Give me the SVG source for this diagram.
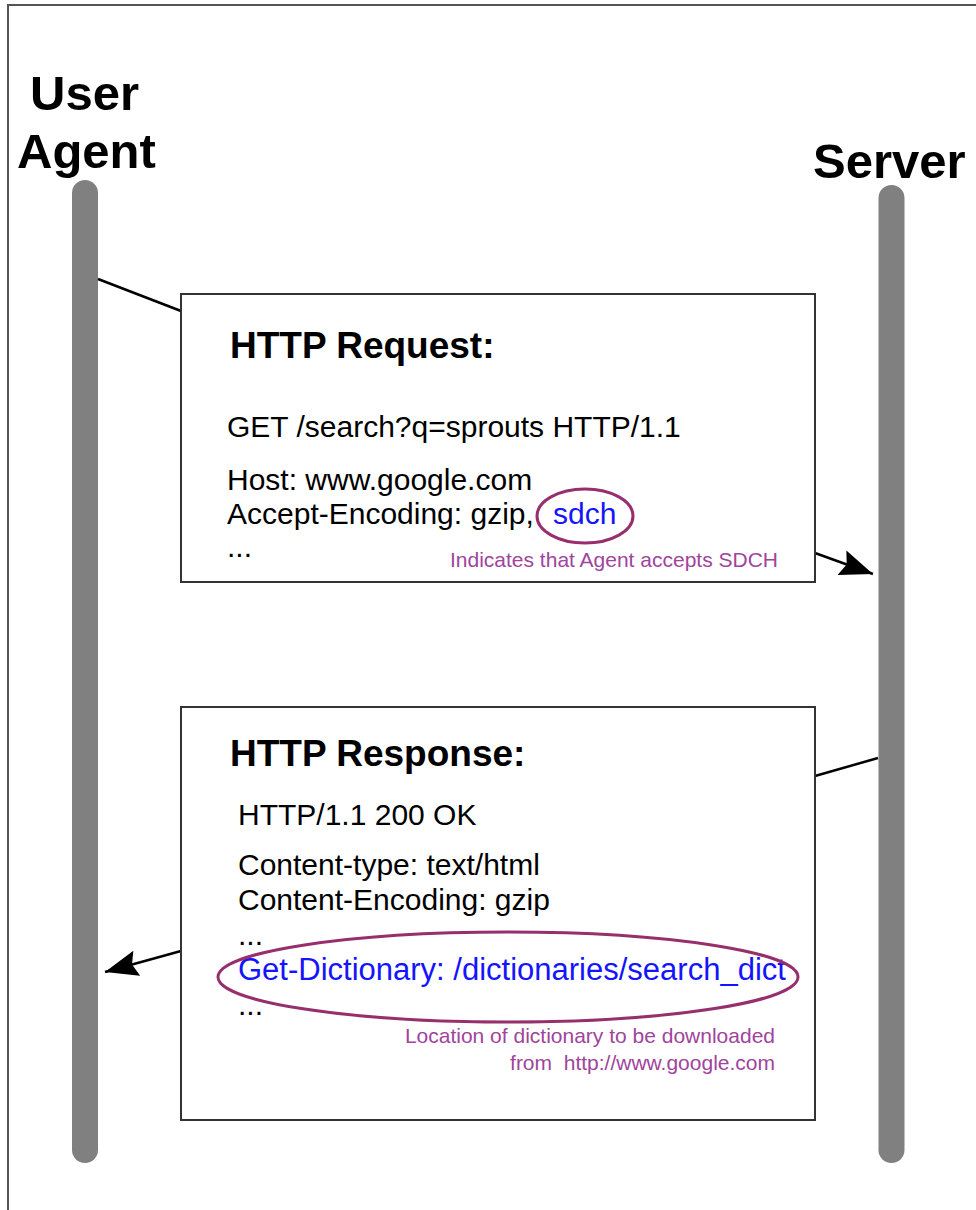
<svg xmlns="http://www.w3.org/2000/svg" width="976" height="1210" viewBox="0 0 976 1210">
  <defs>
    <marker id="arrow" markerUnits="userSpaceOnUse" markerWidth="34" markerHeight="28" viewBox="0 0 34 28" refX="33" refY="14" orient="auto">
      <path d="M0,1 L33,14 L0,27 L5,14 Z" fill="#000"/>
    </marker>
    <style>
      .life { stroke: #808080; stroke-width: 26; stroke-linecap: round; fill: none; }
      .actor { font-family: "Liberation Sans", Arial, sans-serif; font-weight: bold; font-size: 49px; fill: #000; }
      .box { fill: #fff; stroke: #333; stroke-width: 2; }
      .title { font-family: "Liberation Sans", Arial, sans-serif; font-weight: bold; font-size: 37px; fill: #000; }
      .body { font-family: "Liberation Sans", Arial, sans-serif; font-size: 30px; fill: #000; }
      .blue { fill: #1414ff; }
      .note { font-family: "Liberation Sans", Arial, sans-serif; font-size: 21px; fill: #a0449c; }
      .hl { fill: none; stroke: #962f6c; stroke-width: 3; }
      .conn { stroke: #000; stroke-width: 2.5; fill: none; }
    </style>
  </defs>
  <rect x="0" y="0" width="976" height="1210" fill="#fff"/>
  <rect x="8" y="5" width="1000" height="1300" fill="none" stroke="#555" stroke-width="2"/>

  <g id="user-agent">
    <text class="actor" x="30" y="110">User</text>
    <text class="actor" x="17" y="168">Agent</text>
    <line class="life" x1="85" y1="193" x2="85" y2="1150"/>
  </g>

  <g id="server">
    <text class="actor" x="813" y="178">Server</text>
    <line class="life" x1="891.5" y1="198" x2="891.5" y2="1150"/>
  </g>

  <g id="connectors">
    <line class="conn" x1="98" y1="279" x2="181" y2="311"/>
    <line class="conn" x1="815" y1="553" x2="873" y2="574" marker-end="url(#arrow)"/>
    <line class="conn" x1="815" y1="776" x2="878" y2="758"/>
    <line class="conn" x1="181" y1="951" x2="105" y2="972" marker-end="url(#arrow)"/>
  </g>

  <g id="http-request">
    <rect class="box" x="181" y="294" width="634" height="288"/>
    <text class="title" x="230" y="358">HTTP Request:</text>
    <text class="body" x="227" y="437">GET /search?q=sprouts HTTP/1.1</text>
    <text class="body" x="227" y="490">Host: www.google.com</text>
    <text class="body" x="227" y="524">Accept-Encoding: gzip, <tspan class="blue" x="553">sdch</tspan></text>
    <ellipse class="hl" cx="585" cy="516" rx="48" ry="27"/>
    <text class="body" x="227" y="557">...</text>
    <text class="note" x="778" y="567" text-anchor="end">Indicates that Agent accepts SDCH</text>
  </g>

  <g id="http-response">
    <rect class="box" x="181" y="707" width="634" height="413"/>
    <text class="title" x="230" y="766">HTTP Response:</text>
    <text class="body" x="238" y="825">HTTP/1.1 200 OK</text>
    <text class="body" x="238" y="875">Content-type: text/html</text>
    <text class="body" x="238" y="910">Content-Encoding: gzip</text>
    <text class="body" x="238" y="945">...</text>
    <text class="body blue" x="238" y="980" style="font-size:31px">Get-Dictionary: /dictionaries/search_dict</text>
    <ellipse class="hl" cx="508" cy="977" rx="290" ry="45"/>
    <text class="body" x="238" y="1015">...</text>
    <text class="note" x="775" y="1043" text-anchor="end">Location of dictionary to be downloaded</text>
    <text class="note" x="775" y="1070" text-anchor="end" xml:space="preserve">from  http://www.google.com</text>
  </g>
</svg>
